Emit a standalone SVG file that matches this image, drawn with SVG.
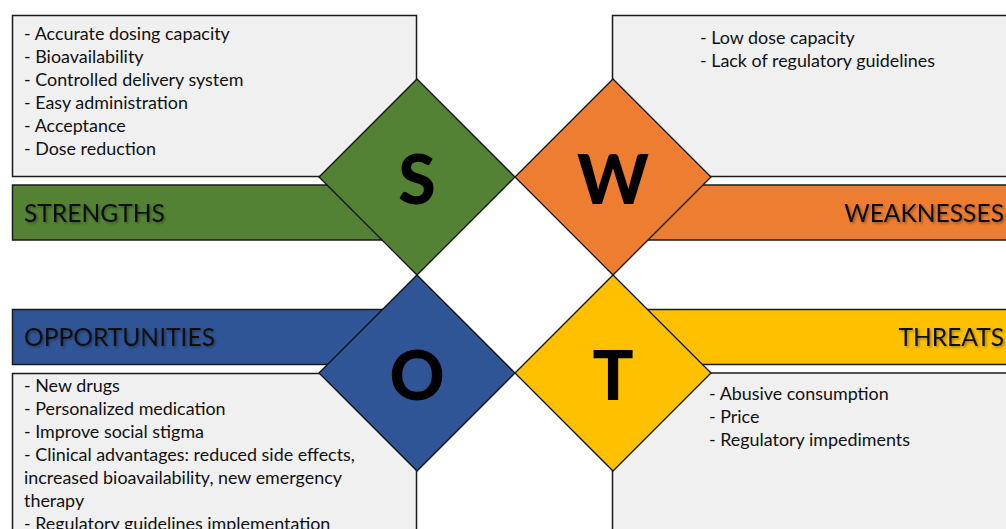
<svg xmlns="http://www.w3.org/2000/svg" width="1006" height="529" viewBox="0 0 1006 529">
  <defs>
    <filter id="txtShadow" x="-5%" y="-20%" width="115%" height="160%">
      <feDropShadow dx="1.5" dy="1.5" stdDeviation="1" flood-color="#000" flood-opacity="0.35"/>
    </filter>
  </defs>
  <style>
    .box { fill: #f0f0f0; stroke: #1a1a1a; stroke-width: 1.5; }
    .bar { stroke: #1a1a1a; stroke-width: 1.5; }
    .dia { stroke: #111; stroke-width: 1.3; }
    .green { fill: #548235; }
    .orange { fill: #ed7d31; }
    .blue { fill: #2f5597; }
    .yellow { fill: #ffc000; }
    .item { font-family: Lato, "Liberation Sans", sans-serif; font-size: 17.9px; fill: #111; }
    .label { font-family: Lato, "Liberation Sans", sans-serif; font-size: 24.6px; fill: #111; filter: url(#txtShadow); }
    .letter { font-family: Lato, "Liberation Sans", sans-serif; font-size: 68px; font-weight: 900; fill: #000; text-anchor: middle; }
  </style>

  <!-- text panels -->
  <g id="panel-strengths">
    <rect class="box" x="12.5" y="15.5" width="404" height="161"/>
    <text class="item" x="24" y="39.5">- Accurate dosing capacity</text>
    <text class="item" x="24" y="62.5">- Bioavailability</text>
    <text class="item" x="24" y="85.5">- Controlled delivery system</text>
    <text class="item" x="24" y="108.5">- Easy administration</text>
    <text class="item" x="24" y="131.5">- Acceptance</text>
    <text class="item" x="24" y="154.5">- Dose reduction</text>
  </g>
  <g id="panel-weaknesses">
    <rect class="box" x="612.5" y="15.5" width="410" height="161"/>
    <text class="item" x="700" y="44">- Low dose capacity</text>
    <text class="item" x="700" y="67">- Lack of regulatory guidelines</text>
  </g>
  <g id="panel-opportunities">
    <rect class="box" x="12.5" y="373.5" width="404" height="170"/>
    <text class="item" x="24" y="391.5">- New drugs</text>
    <text class="item" x="24" y="414.5">- Personalized medication</text>
    <text class="item" x="24" y="437.5">- Improve social stigma</text>
    <text class="item" x="24" y="460.5">- Clinical advantages: reduced side effects,</text>
    <text class="item" x="24" y="483.5">increased bioavailability, new emergency</text>
    <text class="item" x="24" y="506.5">therapy</text>
    <text class="item" x="24" y="529.5">- Regulatory guidelines implementation</text>
  </g>
  <g id="panel-threats">
    <rect class="box" x="612.5" y="373" width="410" height="170"/>
    <text class="item" x="709" y="400">- Abusive consumption</text>
    <text class="item" x="709" y="423">- Price</text>
    <text class="item" x="709" y="446">- Regulatory impediments</text>
  </g>

  <!-- heading bars -->
  <g id="bar-strengths">
    <rect class="bar green" x="12.5" y="185" width="404" height="55"/>
    <text class="label" x="24" y="222">STRENGTHS</text>
  </g>
  <g id="bar-weaknesses">
    <rect class="bar orange" x="613" y="185" width="410" height="55"/>
    <text class="label" x="1004" y="222" text-anchor="end">WEAKNESSES</text>
  </g>
  <g id="bar-opportunities">
    <rect class="bar blue" x="12.5" y="309.5" width="404" height="55"/>
    <text class="label" x="24" y="346">OPPORTUNITIES</text>
  </g>
  <g id="bar-threats">
    <rect class="bar yellow" x="613" y="309.5" width="410" height="55"/>
    <text class="label" x="1004" y="346" text-anchor="end">THREATS</text>
  </g>

  <!-- letter diamonds -->
  <g id="diamond-s">
    <polygon class="dia green" points="417,79 515,177 417,275 319,177"/>
    <text class="letter" x="417" y="204">S</text>
  </g>
  <g id="diamond-w">
    <polygon class="dia orange" points="613,79 711,177 613,275 515,177"/>
    <text class="letter" x="613" y="204">W</text>
  </g>
  <g id="diamond-o">
    <polygon class="dia blue" points="417,275 515,373 417,471 319,373"/>
    <text class="letter" x="417" y="400">O</text>
  </g>
  <g id="diamond-t">
    <polygon class="dia yellow" points="613,275 711,373 613,471 515,373"/>
    <text class="letter" x="613" y="400">T</text>
  </g>

  <g id="connectors"/>
</svg>
